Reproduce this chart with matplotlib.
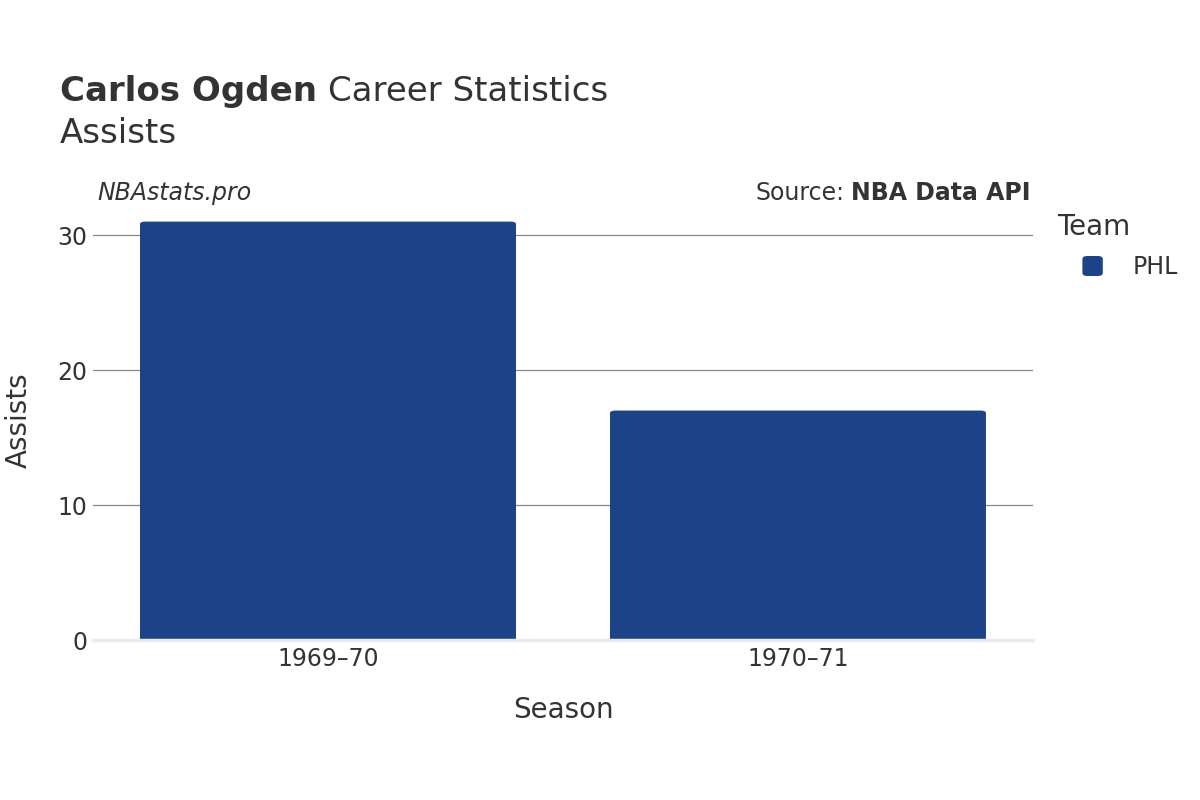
import matplotlib
matplotlib.use("Agg")
import matplotlib.pyplot as plt
from matplotlib.patches import FancyBboxPatch

# Daten
seasons = ["1969–70", "1970–71"]
assists = [31, 17]
team = "PHL"
player = "Carlos Ogden"
stat = "Assists"

bar_color = "#1c4387"
text_color = "#333333"

plt.rcParams['font.family'] = ['DejaVu Sans']

fig = plt.figure(figsize=(12, 8), dpi=100)
ax = fig.add_axes([0.0775, 0.2, 0.7833, 0.55])

x = list(range(len(seasons)))
bars = ax.bar(x, assists, width=0.8, color=bar_color, zorder=3)

# abgerundete Ecken nur oben (unten wird abgeschnitten)
for b in bars:
    b.set_visible(False)
    p = FancyBboxPatch((b.get_x(), -1), b.get_width(), b.get_height() + 1,
                       boxstyle="round,pad=0,rounding_size=0.012",
                       mutation_aspect=15, facecolor=bar_color,
                       edgecolor="none", zorder=3)
    ax.add_patch(p)

ax.set_xlim(-0.5, len(seasons) - 0.5)
ax.set_ylim(0, 32.6)
ax.set_yticks([0, 10, 20, 30])
ax.set_xticks(x)
ax.set_xticklabels(seasons)
ax.grid(axis="y", color="#888888", linewidth=0.9, zorder=0)
ax.axhline(0, color="#ebebeb", linewidth=2.5, zorder=4, clip_on=False)
for s in ax.spines.values():
    s.set_visible(False)
ax.tick_params(axis="both", length=0, labelsize=17, colors=text_color, pad=5)
ax.tick_params(axis="y", pad=4)

ax.set_xlabel("Season", fontsize=20, color=text_color, labelpad=18)
ax.set_ylabel(stat, fontsize=20, color=text_color, labelpad=18)

fig.canvas.draw()
r = fig.canvas.get_renderer()

# Titel
t1 = fig.text(0.05, 0.886, player, fontsize=24.5, fontweight="bold", color=text_color, va="center")
w1 = t1.get_window_extent(r).width / 1200
fig.text(0.05 + w1 + 0.009, 0.886, "Career Statistics", fontsize=24.5, color=text_color, va="center")
fig.text(0.05, 0.833, stat, fontsize=24.5, color=text_color, va="center")

fig.text(0.081, 0.759, "NBAstats.pro", fontsize=17, style="italic", color=text_color, va="center")
t2 = fig.text(0.859, 0.759, "NBA Data API", fontsize=17, fontweight="bold", color=text_color,
              va="center", ha="right")
w2 = t2.get_window_extent(r).width / 1200
fig.text(0.859 - w2 - 0.006, 0.759, "Source:", fontsize=17, color=text_color, va="center", ha="right")

# Legende
fig.text(0.881, 0.716, "Team", fontsize=20, color=text_color, va="center")
leg_box = FancyBboxPatch((0.902, 0.655), 0.017, 0.025, boxstyle="round,pad=0,rounding_size=0.004",
                         transform=fig.transFigure, facecolor=bar_color, edgecolor="none")
fig.patches.append(leg_box)
fig.text(0.944, 0.666, team, fontsize=17, color=text_color, va="center")

fig.savefig("out.png", dpi=100)
